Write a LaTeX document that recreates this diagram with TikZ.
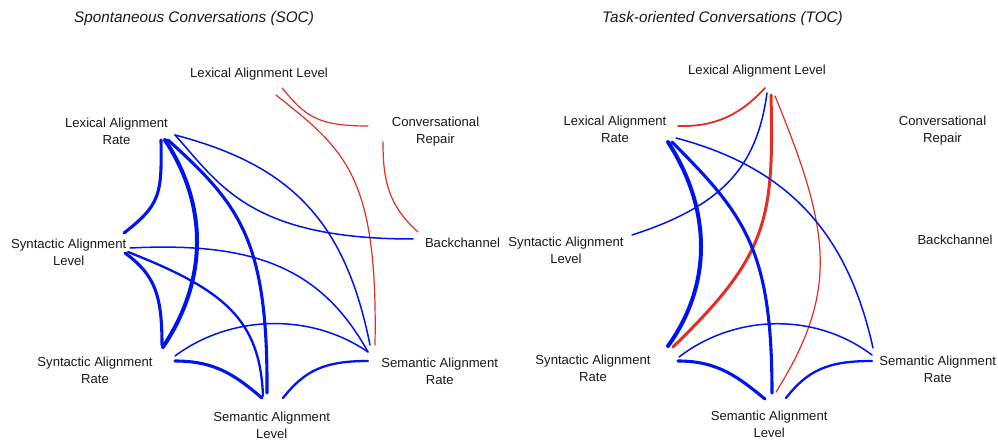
\documentclass[tikz,border=0pt]{standalone}
\usepackage{fontspec}
\setmainfont{Liberation Sans}
\usetikzlibrary{calc}
\definecolor{edgeblue}{RGB}{0,20,240}
\definecolor{edgered}{RGB}{228,45,35}

\begin{document}
\begin{tikzpicture}[x=1pt,y=-1pt,
  lbl/.style={align=center,inner sep=0pt,text=black!90,font=\fontsize{13.1}{16.8}\selectfont},
  ttl/.style={inner sep=0pt,text=black!90,font=\fontsize{15.3}{18}\selectfont\itshape},
  blueA/.style={edgeblue,line width=1.5pt,line cap=round},
  blueB/.style={edgeblue,line width=2.3pt,line cap=round},
  blueC/.style={edgeblue,line width=3.1pt,line cap=round},
  blueD/.style={edgeblue,line width=4pt,line cap=round},
  redA/.style={edgered,line width=1.2pt,line cap=round},
  redB/.style={edgered,line width=1.8pt,line cap=round},
  redC/.style={edgered,line width=3pt,line cap=round}]
\useasboundingbox (0,0) rectangle (998,443);

\node [ttl] (sTitle) at (194,19) {Spontaneous Conversations (SOC)};
\node [lbl] (sLexL) at (259,74.2) {Lexical Alignment Level};
\node [lbl] (sLexR) at (116.5,131) {Lexical Alignment\\Rate};
\node [lbl] (sConv) at (435.5,131.3) {Conversational\\Repair};
\node [lbl] (sSynL) at (68.7,252.2) {Syntactic Alignment\\Level};
\node [lbl] (sBack) at (462.5,242.8) {Backchannel};
\node [lbl] (sSynR) at (95,370.3) {Syntactic Alignment\\Rate};
\node [lbl] (sSemR) at (439.7,371.1) {Semantic Alignment\\Rate};
\node [lbl] (sSemL) at (271.7,425.7) {Semantic Alignment\\Level};

\draw [redA] ($(sLexL)+(23,13.8)$) .. controls +(23,27) and +(-53,0) .. ($(sConv)+(-67.5,-5.3)$);
\draw [redA] ($(sLexL)+(17,20.8)$) .. controls +(69,55) and +(3,-170) .. ($(sSemR)+(-64.7,-26.1)$);
\draw [redA] ($(sConv)+(-52.5,10.7)$) .. controls +(0,38) and +(-30,-27) .. ($(sBack)+(-44.5,-10.8)$);
\draw [blueC] ($(sLexR)+(44.5,9)$) .. controls +(1,55) and +(36,-28) .. ($(sSynL)+(55.3,-19.2)$);
\draw [blueD] ($(sLexR)+(48.5,9)$) .. controls +(43,65) and +(45,-67) .. ($(sSynR)+(68,-23.3)$);
\draw [blueC] ($(sLexR)+(51.5,9)$) .. controls +(72,65) and +(1,-153) .. ($(sSemL)+(-4.7,-32.7)$);
\draw [blueA] ($(sLexR)+(58.5,4)$) .. controls +(45,50) and +(-163,0) .. ($(sBack)+(-49.5,-3.8)$);
\draw [blueA] ($(sLexR)+(58.5,4)$) .. controls +(115,30) and +(-25,-125) .. ($(sSemR)+(-69.7,-26.1)$);
\draw [blueA] ($(sSynL)+(61.3,-4.2)$) .. controls +(120,-6) and +(-48,-87) .. ($(sSemR)+(-71.7,-19.1)$);
\draw [blueC] ($(sSynL)+(56.3,0.8)$) .. controls +(30,22) and +(0,-50) .. ($(sSynR)+(67,-25.3)$);
\draw [blueB] ($(sSynL)+(59.3,-0.2)$) .. controls +(97,38) and +(-3,-76) .. ($(sSemL)+(-8.7,-29.7)$);
\draw [blueA] ($(sSynR)+(80,-14.3)$) .. controls +(55,-41) and +(-58,-40) .. ($(sSemR)+(-71.7,-19.1)$);
\draw [blueC] ($(sSynR)+(80,-9.3)$) .. controls +(40,0) and +(-27,-23) .. ($(sSemL)+(-9.7,-27.7)$);
\draw [blueB] ($(sSemL)+(11.3,-27.7)$) .. controls +(22,-28) and +(-43,0) .. ($(sSemR)+(-71.7,-10.1)$);

\node [ttl] (tTitle) at (722.5,19) {Task-oriented Conversations (TOC)};
\node [lbl] (tLexL) at (757,71) {Lexical Alignment Level};
\node [lbl] (tLexR) at (615,129) {Lexical Alignment\\Rate};
\node [lbl] (tConv) at (942.5,130.3) {Conversational\\Repair};
\node [lbl] (tSynL) at (566,250) {Syntactic Alignment\\Level};
\node [lbl] (tBack) at (955,240.3) {Backchannel};
\node [lbl] (tSynR) at (593,368.3) {Syntactic Alignment\\Rate};
\node [lbl] (tSemR) at (937.7,369.5) {Semantic Alignment\\Rate};
\node [lbl] (tSemL) at (769.2,424.5) {Semantic Alignment\\Level};

\draw [redB] ($(tLexR)+(63,-3)$) .. controls +(37,1) and +(-25,27) .. ($(tLexL)+(8,17)$);
\draw [redC] ($(tLexL)+(14,24)$) .. controls +(3,125) and +(95,-92) .. ($(tSynR)+(80,-21.3)$);
\draw [redA] ($(tLexL)+(18,25)$) .. controls +(55,134) and +(64,-102) .. ($(tSemL)+(6.8,-32.5)$);
\draw [blueA] ($(tLexL)+(10,22)$) .. controls +(-10,72) and +(93,-30) .. ($(tSynL)+(66,-15)$);
\draw [blueD] ($(tLexR)+(53,13)$) .. controls +(44,68) and +(44,-61) .. ($(tSynR)+(75,-22.3)$);
\draw [blueC] ($(tLexR)+(57,13)$) .. controls +(73,73) and +(0,-143) .. ($(tSemL)+(2.8,-31.5)$);
\draw [blueA] ($(tLexR)+(61,9)$) .. controls +(114,30) and +(-25,-113) .. ($(tSemR)+(-64.7,-21.5)$);
\draw [blueA] ($(tSynR)+(86,-11.3)$) .. controls +(56,-43) and +(-57,-43) .. ($(tSemR)+(-65.7,-14.5)$);
\draw [blueC] ($(tSynR)+(85,-7.3)$) .. controls +(40,0) and +(-27,-22) .. ($(tSemL)+(-4.2,-25.5)$);
\draw [blueB] ($(tSemL)+(16.8,-26.5)$) .. controls +(22,-28) and +(-44,0) .. ($(tSemR)+(-65.7,-8.5)$);
\end{tikzpicture}
\end{document}
